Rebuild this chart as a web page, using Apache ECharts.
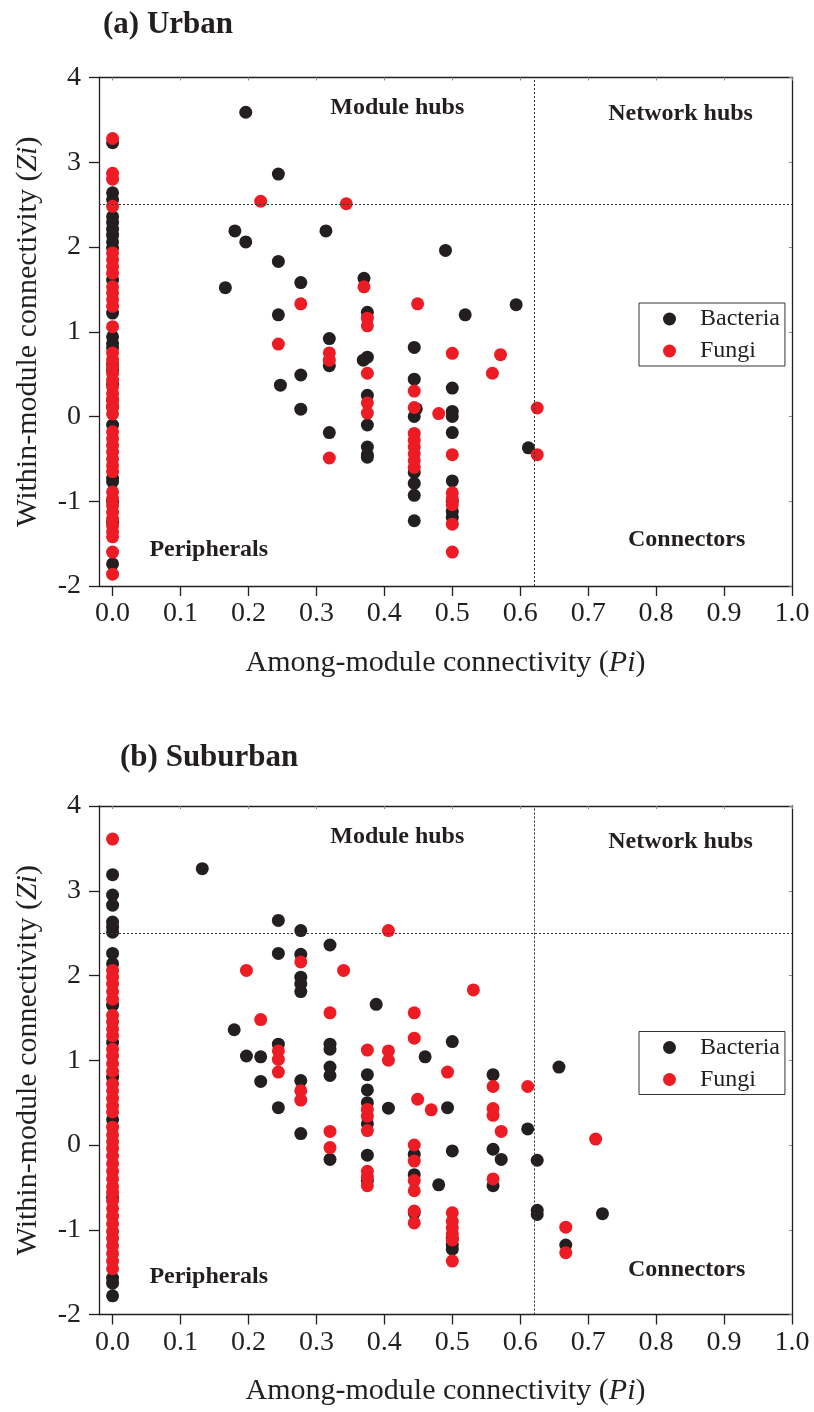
<!DOCTYPE html>
<html><head><meta charset="utf-8">
<script src="https://cdn.jsdelivr.net/npm/echarts@6/dist/echarts.min.js"></script>
<style>html,body{margin:0;padding:0;background:#fff}#c{width:814px;height:1412px}</style>
</head><body><div id="c"></div>
<script>
// ---------- tick labels ----------
const xTickValues = [0, 0.1, 0.2, 0.3, 0.4, 0.5, 0.6, 0.7, 0.8, 0.9, 1.0];
const yTickValues = [-2, -1, 0, 1, 2, 3, 4];
const seriesNames = ['Bacteria', 'Fungi'];
const panelTitles = ['(a) Urban', '(b) Suburban'];
const quadrantNames = ['Module hubs', 'Network hubs', 'Peripherals', 'Connectors'];

// ---------- (a) Urban ----------
// Zi of nodes with Pi = 0
const urbanBacteriaZeroPi = [3.23, 2.64, 2.56, 2.36, 2.29, 2.21, 2.14, 2.06, 1.99, 1.61, 1.22, 0.94, 0.86, 0.81, 0.62, 0.55, 0.38, 0.20, 0.12, -0.10, -0.73, -0.77, -1.0, -1.25, -1.74];
const urbanFungiZeroPi = [3.28, 2.87, 2.80, 2.48, 1.93, 1.85, 1.77, 1.69, 1.53, 1.46, 1.38, 1.30, 1.06, 0.75, 0.67, 0.59, 0.51, 0.43, 0.35, 0.27, 0.19, 0.11, 0.03, -0.18, -0.26, -0.34, -0.42, -0.50, -0.58, -0.65, -0.89, -0.97, -1.05, -1.13, -1.21, -1.29, -1.36, -1.42, -1.60, -1.86];
// [Pi, Zi] of the other nodes
const urbanBacteria = [[0.166,1.52],[0.18,2.19],[0.196,3.59],[0.196,2.06],[0.244,2.86],[0.244,1.83],[0.244,1.20],[0.247,0.37],[0.277,1.58],[0.277,0.49],[0.277,0.086],[0.314,2.19],[0.319,0.92],[0.319,0.60],[0.319,-0.19],[0.370,1.63],[0.375,1.23],[0.375,0.70],[0.369,0.665],[0.375,0.25],[0.375,-0.10],[0.375,-0.36],[0.375,-0.45],[0.375,-0.48],[0.444,0.815],[0.444,0.44],[0.447,0.09],[0.444,0.0],[0.444,-0.66],[0.444,-0.79],[0.444,-0.93],[0.444,-1.23],[0.49,1.96],[0.50,0.335],[0.50,0.06],[0.50,0.0],[0.50,-0.19],[0.50,-0.76],[0.50,-1.0],[0.50,-1.12],[0.50,-1.19],[0.519,1.20],[0.594,1.32],[0.612,-0.37]];
const urbanFungi = [[0.218,2.54],[0.344,2.51],[0.244,0.855],[0.277,1.33],[0.319,0.75],[0.319,0.665],[0.319,-0.49],[0.370,1.53],[0.375,1.16],[0.375,1.07],[0.375,0.51],[0.375,0.16],[0.375,0.04],[0.449,1.33],[0.444,0.30],[0.444,0.106],[0.444,-0.20],[0.444,-0.28],[0.444,-0.36],[0.444,-0.44],[0.444,-0.52],[0.444,-0.60],[0.48,0.035],[0.50,0.745],[0.50,-0.45],[0.50,-0.90],[0.50,-0.97],[0.50,-1.04],[0.50,-1.27],[0.50,-1.60],[0.559,0.51],[0.571,0.73],[0.625,0.10],[0.625,-0.45]];

// ---------- (b) Suburban ----------
const suburbanBacteriaZeroPi = [3.19, 2.95, 2.83, 2.63, 2.57, 2.51, 2.26, 2.14, 1.65, 1.21, 0.80, 0.30, -0.62, -1.57, -1.63, -1.78];
const suburbanFungiZeroPi = [3.61, 2.06, 1.98, 1.90, 1.81, 1.72, 1.53, 1.45, 1.37, 1.29, 1.13, 1.05, 0.96, 0.87, 0.72, 0.64, 0.55, 0.46, 0.39, 0.21, 0.12, 0.04, -0.04, -0.13, -0.22, -0.31, -0.40, -0.49, -0.56, -0.66, -0.75, -0.84, -0.93, -1.02, -1.10, -1.19, -1.28, -1.37, -1.46];
const suburbanBacteria = [[0.132,3.26],[0.179,1.36],[0.197,1.05],[0.218,1.04],[0.218,0.75],[0.244,2.65],[0.244,2.26],[0.244,1.19],[0.244,0.44],[0.277,2.53],[0.277,2.25],[0.277,1.98],[0.277,1.90],[0.277,1.81],[0.277,0.76],[0.277,0.135],[0.32,2.36],[0.32,1.19],[0.32,1.13],[0.32,0.92],[0.32,0.82],[0.32,-0.17],[0.375,0.83],[0.375,0.65],[0.375,0.50],[0.375,0.25],[0.375,-0.12],[0.375,-0.42],[0.388,1.66],[0.406,0.435],[0.444,-0.11],[0.444,-0.35],[0.444,-0.80],[0.46,1.04],[0.48,-0.47],[0.493,0.44],[0.50,1.22],[0.50,-0.07],[0.50,-1.10],[0.50,-1.18],[0.50,-1.23],[0.56,0.83],[0.56,-0.05],[0.56,-0.48],[0.572,-0.17],[0.611,0.19],[0.625,-0.18],[0.625,-0.77],[0.625,-0.82],[0.657,0.92],[0.667,-1.18],[0.721,-0.81]];
const suburbanFungi = [[0.197,2.06],[0.218,1.48],[0.244,1.11],[0.244,1.01],[0.244,0.86],[0.277,2.16],[0.277,0.64],[0.277,0.53],[0.32,1.56],[0.32,0.16],[0.32,-0.03],[0.34,2.06],[0.375,1.12],[0.375,0.42],[0.375,0.34],[0.375,0.17],[0.375,-0.31],[0.375,-0.38],[0.375,-0.48],[0.406,2.53],[0.406,1.11],[0.406,1.00],[0.444,1.56],[0.444,1.26],[0.449,0.54],[0.444,0.0],[0.444,-0.19],[0.444,-0.42],[0.444,-0.54],[0.444,-0.78],[0.444,-0.92],[0.469,0.415],[0.493,0.86],[0.50,-0.80],[0.50,-0.90],[0.50,-0.98],[0.50,-1.05],[0.50,-1.12],[0.50,-1.37],[0.531,1.83],[0.56,0.69],[0.56,0.43],[0.56,0.35],[0.56,-0.40],[0.572,0.16],[0.611,0.69],[0.667,-0.97],[0.667,-1.27],[0.711,0.07]];

const zcut = 2.5, pcut = 0.62;

// ---------- build ----------
const FONT = '"Liberation Serif","Times New Roman",Times,serif';
const INK = '#231f20', RED = '#ed1c24';
const panels = [
  {top: 77.5, title: panelTitles[0], titleLeft: 103, titleTop: 9, legendTop: 303,
   bz: urbanBacteriaZeroPi, fz: urbanFungiZeroPi, b: urbanBacteria, f: urbanFungi,
   ann: [[0.419,3.645],[0.836,3.57],[0.1415,-1.57],[0.845,-1.46]]},
  {top: 806, title: panelTitles[1], titleLeft: 120, titleTop: 742, legendTop: 1031.5,
   bz: suburbanBacteriaZeroPi, fz: suburbanFungiZeroPi, b: suburbanBacteria, f: suburbanFungi,
   ann: [[0.419,3.64],[0.836,3.58],[0.1415,-1.56],[0.845,-1.47]]}
];
const GH = 508.5;
const option = {animation: false, backgroundColor: '#fff', title: [], legend: [], grid: [], xAxis: [], yAxis: [], series: []};
panels.forEach((p, i) => {
  option.title.push({text: p.title, left: p.titleLeft, top: p.titleTop, padding: 0,
    textStyle: {fontFamily: FONT, fontSize: 31, fontWeight: 'bold', color: INK}});
  option.grid.push({left: 99, top: p.top, width: 693, height: GH});
  const xBase = {gridIndex: i, type: 'value', min: -0.02, max: 1.0, splitLine: {show: false},
    axisLine: {show: true, onZero: false, lineStyle: {color: INK, width: 1.3}}};
  option.xAxis.push(Object.assign({}, xBase, {position: 'bottom',
    name: 'Among-module connectivity ({i|Pi})', nameLocation: 'middle', nameGap: 62,
    nameTextStyle: {fontFamily: FONT, fontSize: 30, color: INK, rich: {i: {fontFamily: FONT, fontSize: 30, fontStyle: 'italic', color: INK}}},
    axisTick: {show: true, length: 10, customValues: xTickValues, lineStyle: {color: INK, width: 1.3}},
    axisLabel: {show: true, customValues: xTickValues, formatter: v => v.toFixed(1), margin: 14, fontFamily: FONT, fontSize: 28, color: INK}}));
  option.xAxis.push(Object.assign({}, xBase, {position: 'top',
    axisTick: {show: true, inside: true, length: 3, customValues: xTickValues, lineStyle: {color: '#888', width: 1}},
    axisLabel: {show: false}}));
  const yBase = {gridIndex: i, type: 'value', min: -2, max: 4, interval: 1, splitLine: {show: false},
    axisLine: {show: true, onZero: false, lineStyle: {color: INK, width: 1.3}}};
  option.yAxis.push(Object.assign({}, yBase, {position: 'left',
    name: 'Within-module connectivity ({i|Zi})', nameLocation: 'middle', nameGap: 56, nameRotate: 90,
    nameTextStyle: {fontFamily: FONT, fontSize: 30, color: INK, rich: {i: {fontFamily: FONT, fontSize: 30, fontStyle: 'italic', color: INK}}},
    axisTick: {show: true, length: 10, lineStyle: {color: INK, width: 1.3}},
    axisLabel: {show: true, margin: 18, fontFamily: FONT, fontSize: 28, color: INK}}));
  option.yAxis.push(Object.assign({}, yBase, {position: 'right',
    axisTick: {show: true, inside: true, length: 3, lineStyle: {color: '#888', width: 1}},
    axisLabel: {show: false}}));
  option.legend.push({data: seriesNames, orient: 'vertical', left: 639, top: p.legendTop,
    padding: [4, 5, 3, 24], itemGap: 8, itemWidth: 13, itemHeight: 13, icon: 'circle',
    borderColor: '#333', borderWidth: 1, backgroundColor: '#fff',
    textStyle: {fontFamily: FONT, fontSize: 24, color: INK, padding: [0, 0, 0, 19], lineHeight: 24}});
  const xi = i * 2, yi = i * 2;
  option.series.push({name: seriesNames[0], type: 'scatter', xAxisIndex: xi, yAxisIndex: yi,
    symbolSize: 13, itemStyle: {color: INK, opacity: 1},
    data: p.bz.map(z => [0, z]).concat(p.b), z: 2,
    markLine: {silent: true, symbol: ['none', 'none'], label: {show: false},
      lineStyle: {color: '#333', width: 1, type: [2, 2]},
      data: [{yAxis: zcut}, {xAxis: pcut}]}});
  option.series.push({name: seriesNames[1], type: 'scatter', xAxisIndex: xi, yAxisIndex: yi,
    symbolSize: 13, itemStyle: {color: RED, opacity: 1},
    data: p.fz.map(z => [0, z]).concat(p.f), z: 3});
});
const chart = echarts.init(document.getElementById('c'), null, {renderer: 'canvas'});
chart.setOption(option);
// quadrant names, positioned through the axes' scales
const graphics = [];
panels.forEach((p, i) => {
  p.ann.forEach((c, k) => {
    const px = chart.convertToPixel({xAxisIndex: i * 2, yAxisIndex: i * 2}, c);
    graphics.push({type: 'text', x: px[0], y: px[1], z: 10, silent: true,
      style: {text: quadrantNames[k], align: 'center', verticalAlign: 'middle',
        font: 'bold 24px ' + FONT, fill: INK}});
  });
});
chart.setOption({graphic: graphics});
</script>
</body></html>
